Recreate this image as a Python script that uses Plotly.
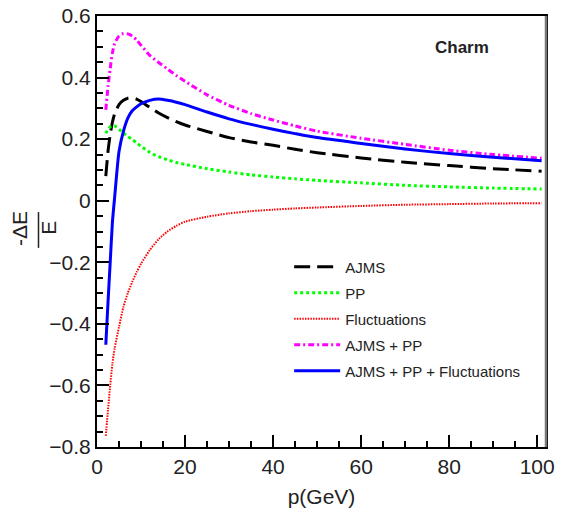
import plotly.graph_objects as go

p_gev = [2, 2.5, 3, 3.5, 4, 5, 6, 7, 8, 9, 10, 12, 14, 16, 18, 20, 25, 30, 35, 40, 45, 50, 60, 70, 80, 90, 101]

ajms = [0.08, 0.16, 0.215, 0.255, 0.282, 0.312, 0.326, 0.333, 0.334, 0.330, 0.322, 0.303, 0.285, 0.270, 0.257, 0.246,
        0.225, 0.205, 0.191, 0.180, 0.167, 0.156, 0.139, 0.125, 0.114, 0.104, 0.096]
pp = [0.219, 0.232, 0.240, 0.243, 0.243, 0.232, 0.220, 0.209, 0.199, 0.188, 0.177, 0.157, 0.143, 0.133, 0.124, 0.118,
      0.104, 0.093, 0.084, 0.077, 0.071, 0.066, 0.058, 0.050, 0.045, 0.041, 0.038]
fluct = [-0.764, -0.68, -0.60, -0.53, -0.48, -0.41, -0.345, -0.30, -0.264, -0.232, -0.205, -0.160, -0.125, -0.100,
         -0.082, -0.068, -0.052, -0.041, -0.034, -0.029, -0.025, -0.022, -0.017, -0.013, -0.011, -0.009, -0.008]
ajms_pp = [0.295, 0.37, 0.43, 0.48, 0.51, 0.535, 0.543, 0.542, 0.535, 0.522, 0.505, 0.472, 0.449, 0.428, 0.407, 0.388,
           0.344, 0.310, 0.283, 0.262, 0.243, 0.226, 0.203, 0.183, 0.164, 0.150, 0.138]
ajms_pp_fluct = [-0.468, -0.33, -0.20, -0.07, 0.01, 0.16, 0.225, 0.268, 0.292, 0.305, 0.315, 0.326, 0.330, 0.326,
                 0.320, 0.312, 0.288, 0.266, 0.248, 0.232, 0.218, 0.205, 0.186, 0.168, 0.153, 0.141, 0.130]

series_names = ["AJMS", "PP", "Fluctuations", "AJMS + PP", "AJMS + PP + Fluctuations"]
series_values = [ajms, pp, fluct, ajms_pp, ajms_pp_fluct]
series_colors = ["#000000", "#00ff00", "#ff0000", "#ff00ff", "#0000ff"]
series_dash = ["16px,7px", "3px,3px", "1.5px,1.2px", "6px,3px,2px,3px", "solid"]
series_width = [3, 3, 2, 3, 3]

fig = go.Figure()
for i, (name, vals) in enumerate(zip(series_names, series_values)):
    fig.add_trace(go.Scatter(
        x=p_gev, y=vals, mode="lines", name=name, legendgroup=name,
        line=dict(color=series_colors[i], width=series_width[i], dash=series_dash[i],
                  shape="spline", smoothing=0.6),
    ))

font_family = "Liberation Sans, Arial, Helvetica, sans-serif"
txt = "#222222"

fig.update_layout(
    width=575, height=510,
    margin=dict(l=97, r=29, t=16, b=63, autoexpand=False),
    paper_bgcolor="white", plot_bgcolor="white",
    font=dict(family=font_family, color=txt),
    showlegend=True,
    legend=dict(x=0.428, y=0.456, xanchor="left", yanchor="top",
                bgcolor="rgba(0,0,0,0)", font=dict(size=15, color=txt),
                itemwidth=46, tracegroupgap=3.5),
    xaxis=dict(range=[0, 102], showgrid=False, zeroline=False, automargin=False,
               showline=True, linecolor="black", linewidth=2, mirror=True,
               ticks="inside", ticklen=12, tickwidth=1.5, tickcolor="black",
               dtick=20, tick0=0, tickfont=dict(size=21, color=txt), ticklabeloverflow="allow",
               minor=dict(ticks="inside", ticklen=6, dtick=5, tickcolor="black", tickwidth=1.5),
               title=dict(text="p(GeV)", font=dict(size=21, color=txt), standoff=12)),
    yaxis=dict(range=[-0.8, 0.6], showgrid=False, zeroline=False, automargin=False,
               showline=True, linecolor="black", linewidth=2, mirror=True,
               ticks="inside", ticklen=12, tickwidth=1.5, tickcolor="black",
               dtick=0.2, tick0=0, tickfont=dict(size=21, color=txt), ticklabeloverflow="allow",
               minor=dict(ticks="inside", ticklen=6, dtick=0.05, tickcolor="black", tickwidth=1.5)),
)

# right frame edge (gray)
fig.add_shape(type="line", xref="paper", yref="paper", x0=1, x1=1, y0=0, y1=1,
              line=dict(color="#777777", width=2.5))

fig.add_annotation(x=83, y=0.497, xref="x", yref="y", text="<b>Charm</b>", showarrow=False,
                   font=dict(size=17, color=txt))

# y-axis title as fraction -ΔE / E
fig.add_annotation(x=-0.174, y=0.508, xref="paper", yref="paper", text="-ΔE", textangle=-90,
                   xanchor="center", yanchor="middle",
                   showarrow=False, font=dict(size=21, color=txt))
fig.add_annotation(x=-0.110, y=0.508, xref="paper", yref="paper", text="E", textangle=-90,
                   xanchor="center", yanchor="middle",
                   showarrow=False, font=dict(size=21, color=txt))
fig.add_shape(type="line", xref="paper", yref="paper", x0=-0.1303, x1=-0.1303, y0=0.462, y1=0.545,
              line=dict(color=txt, width=1.5))

# remove the browser's default 8px body margin so the figure fills the window
fig.write_html("out.html", config={"displayModeBar": False},
               post_script="document.body.style.margin='0';")
